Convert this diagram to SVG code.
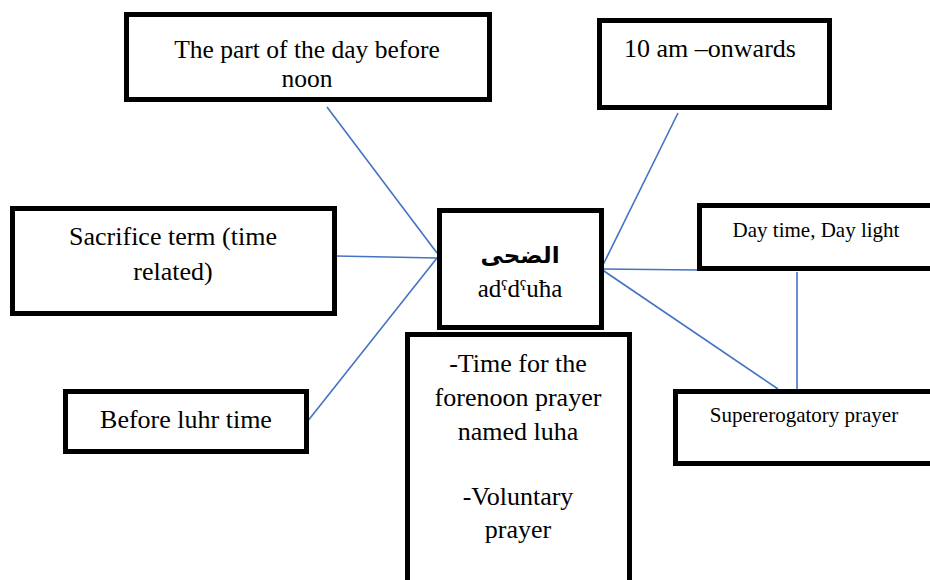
<svg xmlns="http://www.w3.org/2000/svg" width="930" height="580" viewBox="0 0 930 580">
<style>
.box{fill:#fff;stroke:#000;stroke-width:5}
text{font-family:'Liberation Serif','Times New Roman',serif;fill:#000;text-anchor:middle}
.ar{font-family:'DejaVu Sans',sans-serif;font-weight:bold}
.c line{stroke:#4472C4;stroke-width:1.6}
</style>
<rect width="930" height="580" fill="#fff"/>
<g class="c" id="connectors">
<line x1="327" y1="107" x2="437" y2="253"/>
<line x1="336" y1="256" x2="437" y2="258"/>
<line x1="307" y1="422" x2="437" y2="258"/>
<line x1="678" y1="113" x2="601" y2="269"/>
<line x1="601" y1="269" x2="699" y2="270"/>
<line x1="601" y1="269" x2="778" y2="389"/>
<line x1="797" y1="272" x2="797" y2="389"/>
</g>
<g id="n-noon" font-size="25.5">
<rect class="box" x="126.5" y="14.5" width="363" height="85"/>
<text x="307" y="58">The part of the day before</text>
<text x="307" y="87">noon</text>
</g>
<g id="n-10am" font-size="26">
<rect class="box" x="599.5" y="20.5" width="230" height="87"/>
<text x="710" y="57">10 am –onwards</text>
</g>
<g id="n-center">
<rect class="box" x="439.5" y="210.5" width="162" height="117"/>
<text class="ar" x="520" y="263" font-size="23">الضحى</text>
<text x="520" y="297" font-size="25">adˤdˤuħa</text>
</g>
<g id="n-sacrifice" font-size="26">
<rect class="box" x="12.5" y="208.5" width="322" height="105"/>
<text x="173" y="245">Sacrifice term (time</text>
<text x="173" y="280">related)</text>
</g>
<g id="n-luhr" font-size="26">
<rect class="box" x="65.5" y="391.5" width="241" height="60"/>
<text x="186" y="428">Before luhr time</text>
</g>
<g id="n-prayer" font-size="26">
<rect class="box" x="407.5" y="334.5" width="222" height="260"/>
<text x="518" y="372">-Time for the</text>
<text x="518" y="406">forenoon prayer</text>
<text x="518" y="440">named luha</text>
<text x="518" y="505">-Voluntary</text>
<text x="518" y="538">prayer</text>
</g>
<g id="n-daytime" font-size="21">
<rect class="box" x="699.5" y="205.5" width="240" height="63"/>
<text x="816" y="237">Day time, Day light</text>
</g>
<g id="n-supererogatory" font-size="21">
<rect class="box" x="675.5" y="391.5" width="265" height="72"/>
<text x="804" y="422">Supererogatory prayer</text>
</g>
</svg>
